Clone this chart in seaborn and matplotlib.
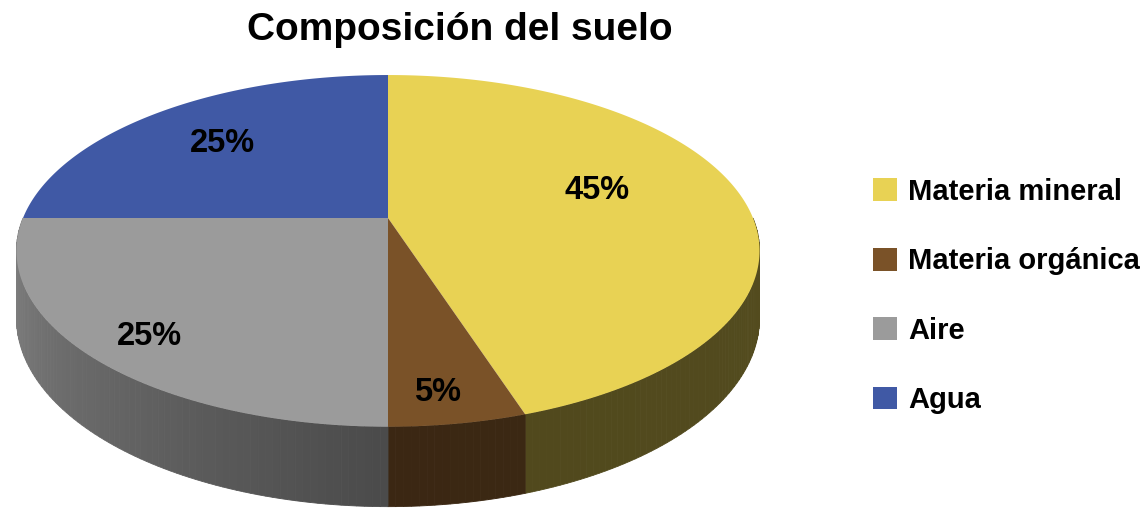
import numpy as np
import matplotlib
matplotlib.use("Agg")
import matplotlib.pyplot as plt
from matplotlib.patches import Patch
import seaborn as sns

# ---- data ----
categories = ["Materia mineral", "Materia orgánica", "Aire", "Agua"]
values = [45, 5, 25, 25]
pct_labels = ["45%", "5%", "25%", "25%"]
title = "Composición del suelo"

# ---- style / layout ----
colors = sns.color_palette(["#E8D254", "#7A5228", "#9B9B9B", "#4059A5"])
side_scale = [0.72, 1.0, 1.0, 1.0]
label_angle = [16.0, -82.5, 227.0, 135.8]
label_r = [0.615, 0.868, 0.846, 0.691]

sns.set_theme(style="white")
plt.rcParams["font.family"] = ["Liberation Sans", "DejaVu Sans"]
plt.rcParams["text.color"] = "black"

W, Hpx = 1145, 511
fig = plt.figure(figsize=(W / 100, Hpx / 100), dpi=100)
ax = fig.add_axes([0, 0, 1, 1])
ax.set_xlim(0, W)
ax.set_ylim(Hpx, 0)
ax.axis("off")

CX, CY, RX, RY, D, TH = 388.0, 218.0, 365.0, 169.7, 5.35, 65.0


def proj(theta, r=1.0, z=0.0):
    t = np.radians(theta)
    X = r * np.cos(t)
    Y = r * np.sin(t)
    k = D / (D + Y)
    return CX + RX * X * k, CY - RY * Y * k + TH * z * k


def shade(theta):
    # lighting factor for the side wall, theta in [180, 360]
    if theta <= 270:
        return 0.86 - 0.38 * (theta - 180) / 90
    return 0.48 + 0.02 * (theta - 270) / 90


total = float(sum(values))
starts = []
a = 90.0
for v in values:
    span = 360.0 * v / total
    starts.append((a - span, a))
    a -= span

# side walls (front half only)
for (t0, t1), c, sc in zip(starts, colors, side_scale):
    lo = t0 % 360
    hi = lo + (t1 - t0)
    for off in (0, 360, -360):
        s0 = max(lo + off, 180)
        s1 = min(hi + off, 360)
        if s1 <= s0:
            continue
        n = max(int((s1 - s0) / 1.0), 1)
        edges = np.linspace(s0, s1, n + 1)
        for e0, e1 in zip(edges[:-1], edges[1:]):
            f = shade(0.5 * (e0 + e1)) * sc
            cc = tuple(np.clip(np.array(c) * f, 0, 1))
            p = [proj(e0), proj(e1), proj(e1, z=1), proj(e0, z=1)]
            ax.fill([q[0] for q in p], [q[1] for q in p], color=cc,
                    lw=0.6, ec=cc, zorder=1)

# top surface
for (t0, t1), c in zip(starts, colors):
    th = np.linspace(t0, t1, 200)
    pts = [proj(0, r=0)] + [proj(t) for t in th]
    ax.fill([q[0] for q in pts], [q[1] for q in pts], color=c, lw=0,
            zorder=2)

# percentage labels
for lab, ang, r in zip(pct_labels, label_angle, label_r):
    x, y = proj(ang, r=r)
    ax.text(x, y, lab, ha="center", va="center", fontsize=23.5,
            fontweight="bold", color="black", zorder=3)

ax.text(460, 30, title, ha="center", va="center", fontsize=28,
        fontweight="bold", color="black")

handles = [Patch(facecolor=c, edgecolor="none") for c in colors]
ax.legend(handles, categories, loc="center left",
          bbox_to_anchor=(873 / W, 1 - 296 / Hpx), frameon=False,
          prop={"family": ["Liberation Sans"], "weight": "bold", "size": 21},
          labelcolor="black",
          handlelength=0.82, handleheight=0.82, handletextpad=0.38,
          labelspacing=1.42, borderpad=0, borderaxespad=0)

fig.savefig("out.png", dpi=100, facecolor="white")
